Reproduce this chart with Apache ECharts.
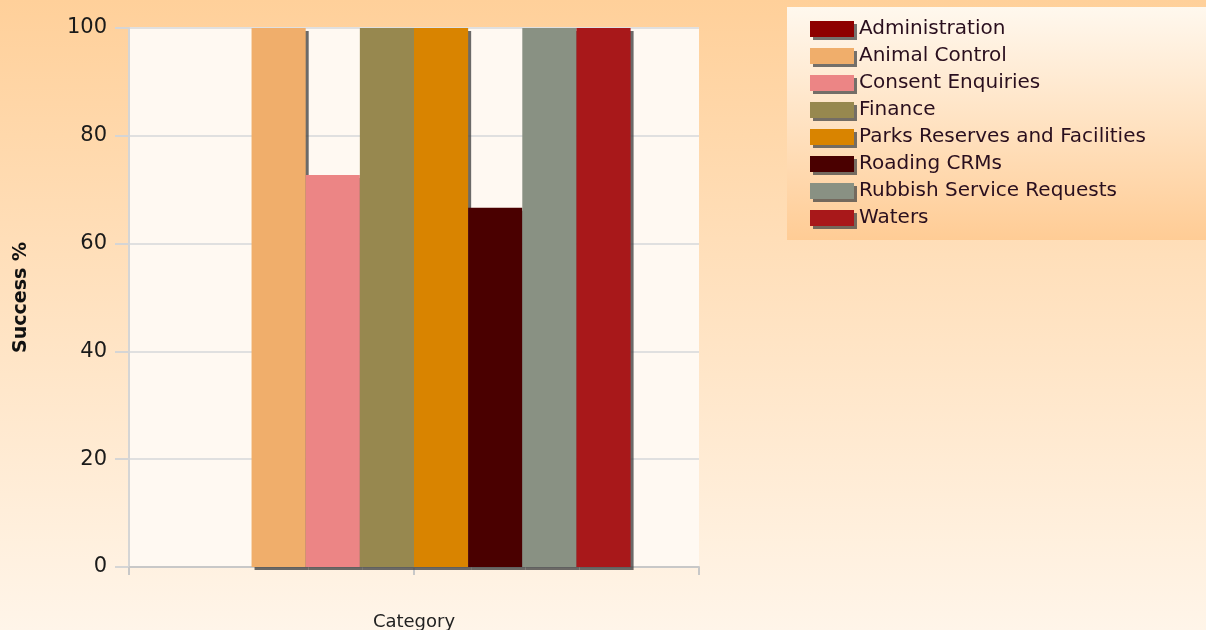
<!DOCTYPE html>
<html><head><meta charset="utf-8">
<script src="https://cdn.jsdelivr.net/npm/echarts@6/dist/echarts.min.js"></script>
<style>html,body{margin:0;padding:0;}#c{width:1206px;height:630px;}</style>
</head><body><div id="c"></div>
<script>
const categories = [''];
const seriesNames = ['Administration','Animal Control','Consent Enquiries','Finance','Parks Reserves and Facilities','Roading CRMs','Rubbish Service Requests','Waters'];
const seriesValues = [0, 100, 72.73, 100, 100, 66.67, 100, 100];
const seriesColors = ['#8E0000','#F0AE6B','#EC8585','#97884F','#D98400','#4A0000','#899183','#A8181A'];
const yTicks = [0, 20, 40, 60, 80, 100];

const chart = echarts.init(document.getElementById('c'), null, {renderer:'canvas'});
const font = 'DejaVu Sans, Verdana, sans-serif';
chart.setOption({
  backgroundColor: {type:'linear', x:0, y:0, x2:0, y2:1, colorStops:[{offset:0,color:'#FFD09A'},{offset:1,color:'#FFF5E9'}]},
  animation:false,
  graphic:[{
    type:'rect', left:787, top:7, z:-1,
    shape:{width:419, height:233},
    style:{fill:{type:'linear', x:0, y:0, x2:0, y2:1, colorStops:[{offset:0,color:'#FFF8EE'},{offset:1,color:'#FFCC95'}]}}
  }],
  legend:{
    orient:'vertical', left:805, top:13, icon:'rect',
    itemWidth:44, itemHeight:16, itemGap:5,
    textStyle:{fontFamily:font, fontSize:20, color:'#2A0F1E', lineHeight:22},
    itemStyle:{shadowColor:'rgba(70,70,70,0.75)', shadowOffsetX:3, shadowOffsetY:3, shadowBlur:0},
    data: seriesNames
  },
  grid:{left:129, right:507, top:28, bottom:63, show:true, backgroundColor:'#FFF9F2', borderWidth:0, containLabel:false, outerBoundsMode:'none'},
  xAxis:[{
    type:'category', data:categories,
    name:'Category', nameLocation:'middle', nameGap:46,
    nameTextStyle:{fontFamily:font, fontSize:18, color:'#222'},
    axisLine:{lineStyle:{color:'#C8C8C8', width:2}},
    axisTick:{show:true, length:8, lineStyle:{color:'#C8C8C8', width:2}},
    axisLabel:{show:false}
  },{
    type:'value', min:0, max:2, interval:1, position:'bottom',
    axisLine:{show:false}, axisLabel:{show:false}, splitLine:{show:false},
    axisTick:{show:true, length:8, lineStyle:{color:'#C8C8C8', width:2}}
  }],
  yAxis:{
    type:'value', min:0, max:100, interval:20,
    name:'Success %', nameLocation:'middle', nameGap:98, nameRotate:90,
    nameTextStyle:{fontFamily:font, fontSize:19, fontWeight:'bold', color:'#111'},
    axisLine:{show:true, lineStyle:{color:'#D5D5D5', width:2}},
    axisTick:{show:true, length:14, lineStyle:{color:'#D5D5D5', width:2}},
    axisLabel:{fontFamily:font, fontSize:21, color:'#1A1A1A', margin:22,
      formatter:(v)=> yTicks.includes(v) ? String(v) : ''},
    splitLine:{lineStyle:{color:'#E0E0E0', width:2}}
  },
  series: seriesNames.map((n,i)=>({
    name:n, type:'bar', xAxisIndex:0, data:[seriesValues[i]],
    barGap:'0%', barCategoryGap:'24%',
    itemStyle:{color:seriesColors[i], shadowColor:'rgba(70,70,70,0.8)', shadowOffsetX:3, shadowOffsetY:3, shadowBlur:0}
  }))
});
</script></body></html>
